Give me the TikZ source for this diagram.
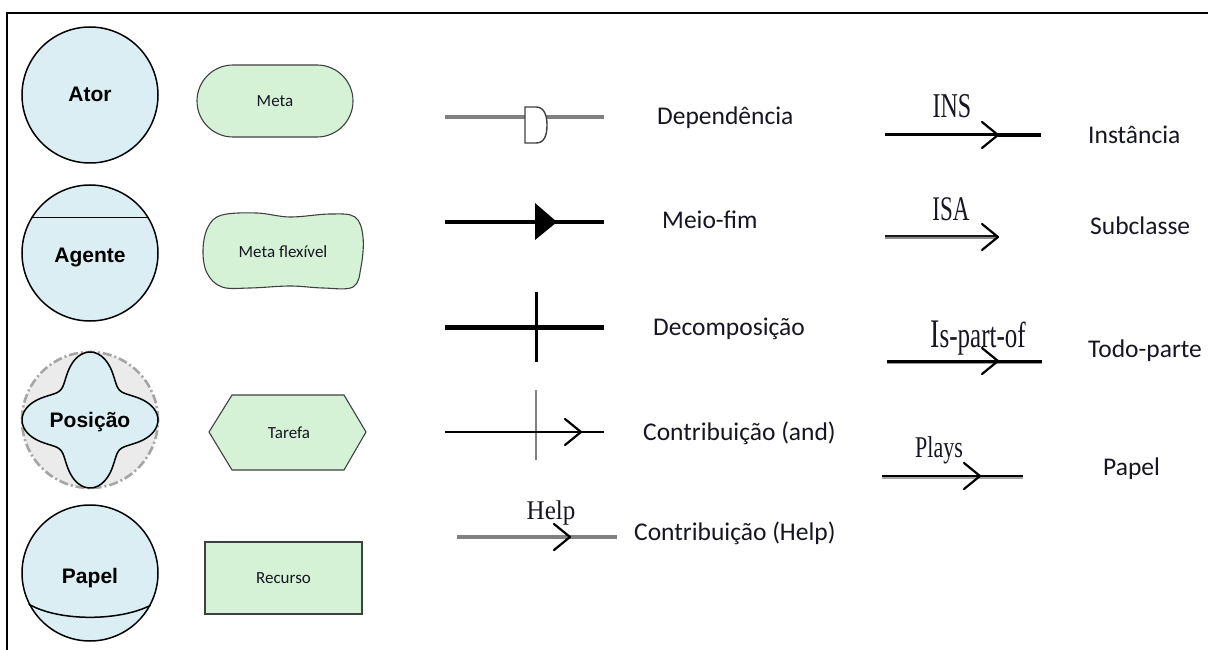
\documentclass[tikz,border=0pt]{standalone}
\usepackage{fontspec}
\usepackage{graphicx}
\setmainfont{Carlito}
\newfontfamily\headfont{Liberation Sans}
\newfontfamily\timesfont{Liberation Serif}

\definecolor{actorblue}{RGB}{218,238,244}
\definecolor{goalgreen}{RGB}{214,242,214}
\definecolor{linkgray}{RGB}{128,128,128}
\definecolor{rolegray}{RGB}{235,235,235}
\definecolor{dashgray}{RGB}{165,165,165}
\definecolor{ink}{RGB}{22,22,34}

\tikzset{
  actorshape/.style={circle, draw=black, line width=1.5pt, fill=actorblue,
    minimum size=136pt, inner sep=0pt},
  elemshape/.style={draw=black!75, line width=1.1pt, fill=goalgreen},
  elemname/.style={font=\fontsize{17}{20}\selectfont, text=ink},
  bigname/.style={font=\headfont\bfseries\fontsize{21}{25}\selectfont,
    inner sep=0pt, anchor=base},
  caption/.style={font=\fontsize{25.5}{30}\selectfont, inner sep=0pt,
    anchor=base west, text=ink},
  tag/.style={font=\timesfont\fontsize{24}{28}\selectfont, inner sep=0pt,
    anchor=base, text=ink},
  chev/.style={line width=2.2pt, line join=round, line cap=round},
  chevron/.pic={\draw[chev] (-16,-13) -- (0,0) -- (-16,13);}
}

\begin{document}
\begin{tikzpicture}[x=1pt, y=-1pt]
\useasboundingbox (0,0) rectangle (1208,650);

% frame
\draw[line width=1.8pt] (7,650) -- (7,13) -- (1208,13);

% ---------- actors ----------
\node[actorshape] (ator) at (90,95) {};
\node[bigname] (atorname) at (90,102) {Ator};

\node[actorshape] (agente) at (90,253) {};
\draw[line width=1.5pt] (agente.149) -- (agente.31);
\node[bigname] (agentename) at (90,262) {Agente};

\node[circle, draw=dashgray, fill=rolegray, line width=2.6pt,
  dash pattern=on 9pt off 3pt on 2pt off 3pt, minimum size=136pt,
  inner sep=0pt] (posicao) at (90,420) {};
\draw[line width=1.5pt, fill=actorblue]
  plot[domain=0:360, samples=144, smooth]
  ({90+(55+13*cos(4*\x))*cos(\x)}, {420+(55+13*cos(4*\x))*sin(\x)}) -- cycle;
\node[bigname] (posicaoname) at (90,427) {Posição};

\node[actorshape] (papel) at (90,573) {};
\draw[line width=1.5pt] (papel.207) .. controls (60,622) and (120,621) .. (papel.-28);
\node[bigname] (papelname) at (90,583) {Papel};

% ---------- intentional elements ----------
\node[elemshape, elemname, rounded corners=36pt, minimum width=156pt,
  minimum height=72pt] (meta) at (275,101) {Meta};

\draw[elemshape] plot[smooth cycle, tension=0.6] coordinates {
  (222,215) (257,213) (290,217) (330,214) (355,217) (363,237) (361,267)
  (353,287) (323,288) (290,286) (250,288) (222,287) (207,273) (203,250)
  (208,227)};
\node[elemname] (metaflex) at (283,252) {Meta flexível};

\draw[elemshape] (209,432) -- (232,395) -- (344,395) -- (366,432)
  -- (344,470) -- (232,470) -- cycle;
\node[elemname] (tarefa) at (289,433) {Tarefa};

\node[elemshape, elemname, minimum width=157pt, minimum height=72pt]
  (recurso) at (283.5,578) {Recurso};

% ---------- links ----------
% dependency
\coordinate (depA) at (445,117);
\coordinate (depB) at (525,117);
\coordinate (depC) at (546,117);
\coordinate (depD) at (604,117);
\draw[linkgray, line width=3.2pt] (depA) -- (depB) (depC) -- (depD);
\draw[draw=black!75, line width=1.4pt, fill=white]
  (525,107) -- (536,107) .. controls (544,107) and (547,115) .. (547,125)
  .. controls (547,136) and (544,143) .. (536,143) -- (525,143) -- cycle;
\node[caption] (depname) at (657,125) {Dependência};

% means-end
\coordinate (meA) at (445,222);
\coordinate (meB) at (604,222);
\draw[line width=4pt] (meA) -- (meB);
\fill (535,203) -- (557,222) -- (535,240) -- cycle;
\node[caption] (mename) at (662,228) {Meio-fim};

% decomposition
\coordinate (decA) at (445,327);
\coordinate (decB) at (604,327);
\coordinate (decT) at (536,292);
\coordinate (decU) at (536,362);
\draw[line width=5pt] (decA) -- (decB);
\draw[line width=3pt] (decT) -- (decU);
\node[caption] (decname) at (653,335) {Decomposição};

% contribution (and)
\coordinate (andA) at (445,432);
\coordinate (andB) at (604,432);
\coordinate (andT) at (536,390);
\coordinate (andU) at (536,460);
\coordinate (andTip) at (581,432);
\draw[linkgray, line width=2.2pt] (andT) -- (andU);
\draw[line width=2.8pt] (andA) -- (andB);
\pic at (andTip) {chevron};
\node[caption] (andname) at (643,440) {Contribuição (and)};

% contribution (help)
\coordinate (helpA) at (457,537);
\coordinate (helpB) at (617,537);
\coordinate (helpTip) at (570,537);
\draw[linkgray, line width=3.8pt] (helpA) -- (helpB);
\pic at (helpTip) {chevron};
\node[tag, font=\timesfont\fontsize{25}{28}\selectfont] (helptag) at (551,519) {\scalebox{1}[1.08]{Help}};
\node[caption] (helpname) at (634,540) {Contribuição (Help)};

% instance
\coordinate (insA) at (885,135);
\coordinate (insTip) at (998,135);
\coordinate (insB) at (1041,135);
\draw[line width=3pt] (insA) -- (insTip);
\draw[line width=4.4pt] (insTip) -- (insB);
\pic at (insTip) {chevron};
\node[tag] (instag) at (952,118) {\scalebox{1}[1.45]{INS}};
\node[caption] (insname) at (1088,144) {Instância};

% subclass
\coordinate (isaA) at (885,237);
\coordinate (isaTip) at (998,237);
\draw[black!45, line width=3.4pt] (isaA) -- (isaTip);
\draw[black!90, line width=1.7pt] ([yshift=0.8pt]isaA) -- ([yshift=0.8pt]isaTip);
\pic at (isaTip) {chevron};
\node[tag, font=\timesfont\fontsize{23}{28}\selectfont] (isatag) at (951,220) {\scalebox{1}[1.5]{ISA}};
\node[caption] (isaname) at (1090,234) {Subclasse};

% part of
\coordinate (partA) at (887,361);
\coordinate (partTip) at (998,361);
\coordinate (partB) at (1042,361);
\draw[black!40, line width=2.2pt] ([yshift=-2.2pt]partA) -- ([yshift=-2.2pt]partB);
\draw[line width=3pt] (partA) -- (partB);
\pic at (partTip) {chevron};
\node[tag, font=\timesfont\fontsize{25}{28}\selectfont] (parttag) at (978,347)
  {\scalebox{1}[1.45]{{\fontsize{28}{28}\selectfont I}s-part-of}};
\node[caption] (partname) at (1088,357) {Todo-parte};

% plays
\coordinate (playsA) at (882,476);
\coordinate (playsTip) at (980,476);
\coordinate (playsB) at (1023,476);
\draw[black!35, line width=2.2pt] ([yshift=-2.2pt]playsA) -- ([yshift=-2.2pt]playsB);
\draw[line width=2.6pt] (playsA) -- (playsB);
\pic at (playsTip) {chevron};
\node[tag, font=\timesfont\fontsize{22}{28}\selectfont] (playstag) at (939,457) {\scalebox{1}[1.37]{Plays}};
\node[caption] (playsname) at (1103,475) {Papel};
\end{tikzpicture}
\end{document}
